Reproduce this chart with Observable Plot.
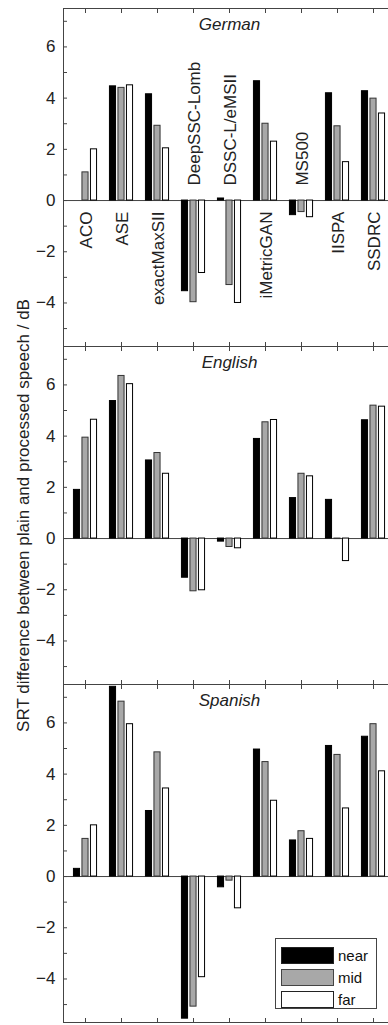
<!DOCTYPE html>
<html><head><meta charset="utf-8">
<script src="https://cdn.jsdelivr.net/npm/d3@7"></script>
<script src="https://cdn.jsdelivr.net/npm/@observablehq/plot@0.6"></script>
<style>
html,body{margin:0;padding:0;background:#fff;overflow:hidden;}
#wrap{position:relative;width:388px;height:1025px;overflow:hidden;font-family:"Liberation Sans",Arial,sans-serif;}
#wrap svg{position:absolute;left:0;top:0;overflow:visible;max-width:none !important;}
#legend{position:absolute;left:275px;top:938px;width:102px;height:71px;border:1px solid #444;box-sizing:border-box;background:#fff;padding:5px 0 0 5px;}
.row{display:flex;align-items:center;height:22px;font-size:15px;color:#111;}
.sw{width:53px;height:17px;box-sizing:border-box;border:1px solid #222;margin-right:4px;}
</style></head>
<body><div id="wrap"></div>
<script>
const categories = ["ACO","ASE","exactMaxSII","DeepSSC-Lomb","DSSC-L/eMSII","iMetricGAN","MS500","IISPA","SSDRC"];
const languages = ["German","English","Spanish"];
const seriesNames = ["near","mid","far"];
const seriesColors = ["#000000","#a8a8a8","#ffffff"];
const germanNear  = [0.00, 4.46, 4.15, -3.54,  0.08, 4.66, -0.57, 4.19, 4.27];
const germanMid   = [1.10, 4.40, 2.92, -3.97, -3.30, 3.00, -0.45, 2.90, 3.98];
const germanFar   = [2.00, 4.50, 2.04, -2.83, -4.00, 2.30, -0.65, 1.50, 3.40];
const englishNear = [1.90, 5.37, 3.05, -1.53, -0.12, 3.89, 1.58, 1.51, 4.62];
const englishMid  = [3.94, 6.35, 3.34, -2.06, -0.33, 4.54, 2.53, -0.02, 5.19];
const englishFar  = [4.64, 6.03, 2.53, -2.02, -0.38, 4.63, 2.43, -0.88, 5.15];
const spanishNear = [0.30, 7.41, 2.56, -5.55, -0.42, 4.96, 1.41, 5.10, 5.46];
const spanishMid  = [1.47, 6.83, 4.85, -5.08, -0.16, 4.47, 1.77, 4.75, 5.95];
const spanishFar  = [2.00, 5.95, 3.44, -3.93, -1.24, 2.96, 1.47, 2.66, 4.11];
const yTicksLabeled = [-4, -2, 0, 2, 4, 6];
const yTicksAll = [-5, -4, -3, -2, -1, 0, 1, 2, 3, 4, 5, 6, 7];
const yLabel = "SRT difference between plain and processed speech / dB";

const valueTable = {
  German: [germanNear, germanMid, germanFar],
  English: [englishNear, englishMid, englishFar],
  Spanish: [spanishNear, spanishMid, spanishFar]
};
const rows = [];
languages.forEach(lang => {
  seriesNames.forEach((s, si) => {
    categories.forEach((cat, ci) => {
      rows.push({lang, cat, series: s, value: valueTable[lang][si][ci]});
    });
  });
});
const catLabels = categories.map((cat, ci) => ({lang: "German", cat, above: germanMid[ci] < 0}));

const font = '"Liberation Sans", Arial, sans-serif';
const barW = 7, offset = 8.5;
const step = 332 / categories.length;
const inset = (step - barW) / 2;

const marks = [
  Plot.ruleY([0], {stroke: "#444", strokeWidth: 1}),
  ...seriesNames.map((s, si) => Plot.barY(rows.filter(d => d.series === s), {
    x: "cat", y: "value", fy: "lang",
    fill: seriesColors[si], stroke: si === 1 ? "#333" : "#000", strokeWidth: 1,
    insetLeft: inset, insetRight: inset, dx: (si - 1) * offset
  })),
  Plot.frame({stroke: "#444", strokeWidth: 1}),
  Plot.axisY(yTicksAll, {anchor: "left", tickSize: -4, tickFormat: () => "", stroke: "#444", label: null}),
  Plot.axisY(yTicksLabeled, {anchor: "left", tickSize: 0, tickPadding: 8, fontSize: 17, fill: "#222", label: null}),
  Plot.axisX({anchor: "top", facetAnchor: null, tickSize: -4, tickFormat: () => "", stroke: "#444", label: null}),
  Plot.axisX({anchor: "bottom", facetAnchor: null, tickSize: -4, tickFormat: () => "", stroke: "#444", label: null}),
  Plot.text(languages, {fy: d => d, text: d => d, frameAnchor: "top", dy: 16, fontStyle: "italic", fontSize: 17, fill: "#222", lineAnchor: "middle"}),
  Plot.text(catLabels.filter(d => !d.above), {x: "cat", y: () => 0, fy: "lang", text: "cat", rotate: -90, textAnchor: "end", lineAnchor: "middle", dy: 11, dx: 1, fontSize: 17, fill: "#222"}),
  Plot.text(catLabels.filter(d => d.above), {x: "cat", y: () => 0, fy: "lang", text: "cat", rotate: -90, textAnchor: "start", lineAnchor: "middle", dy: -15, dx: 1, fontSize: 17, fill: "#222"}),
  Plot.text([{lang: "English", t: yLabel}], {fy: "lang", text: "t", frameAnchor: "left", rotate: -90, dx: -40, textAnchor: "middle", lineAnchor: "middle", fontSize: 17, fill: "#222"})
];

const chart = Plot.plot({
  width: 396, height: 1025,
  marginLeft: 63, marginRight: 1, marginTop: 7, marginBottom: 2,
  style: {fontFamily: font, background: "#fff", overflow: "visible"},
  x: {type: "band", domain: categories, padding: 0, axis: null},
  y: {domain: [-5.7, 7.5], axis: null},
  fy: {domain: languages, padding: 0, axis: null, label: null},
  marks
});
const wrap = document.getElementById("wrap");
wrap.appendChild(chart);

const legend = document.createElement("div");
legend.id = "legend";
seriesNames.forEach((s, si) => {
  const row = document.createElement("div");
  row.className = "row";
  const sw = document.createElement("div");
  sw.className = "sw";
  sw.style.background = seriesColors[si];
  if (si === 1) sw.style.borderColor = "#444";
  const t = document.createElement("span");
  t.textContent = s;
  row.appendChild(sw); row.appendChild(t);
  legend.appendChild(row);
});
wrap.appendChild(legend);
</script>
</body></html>
